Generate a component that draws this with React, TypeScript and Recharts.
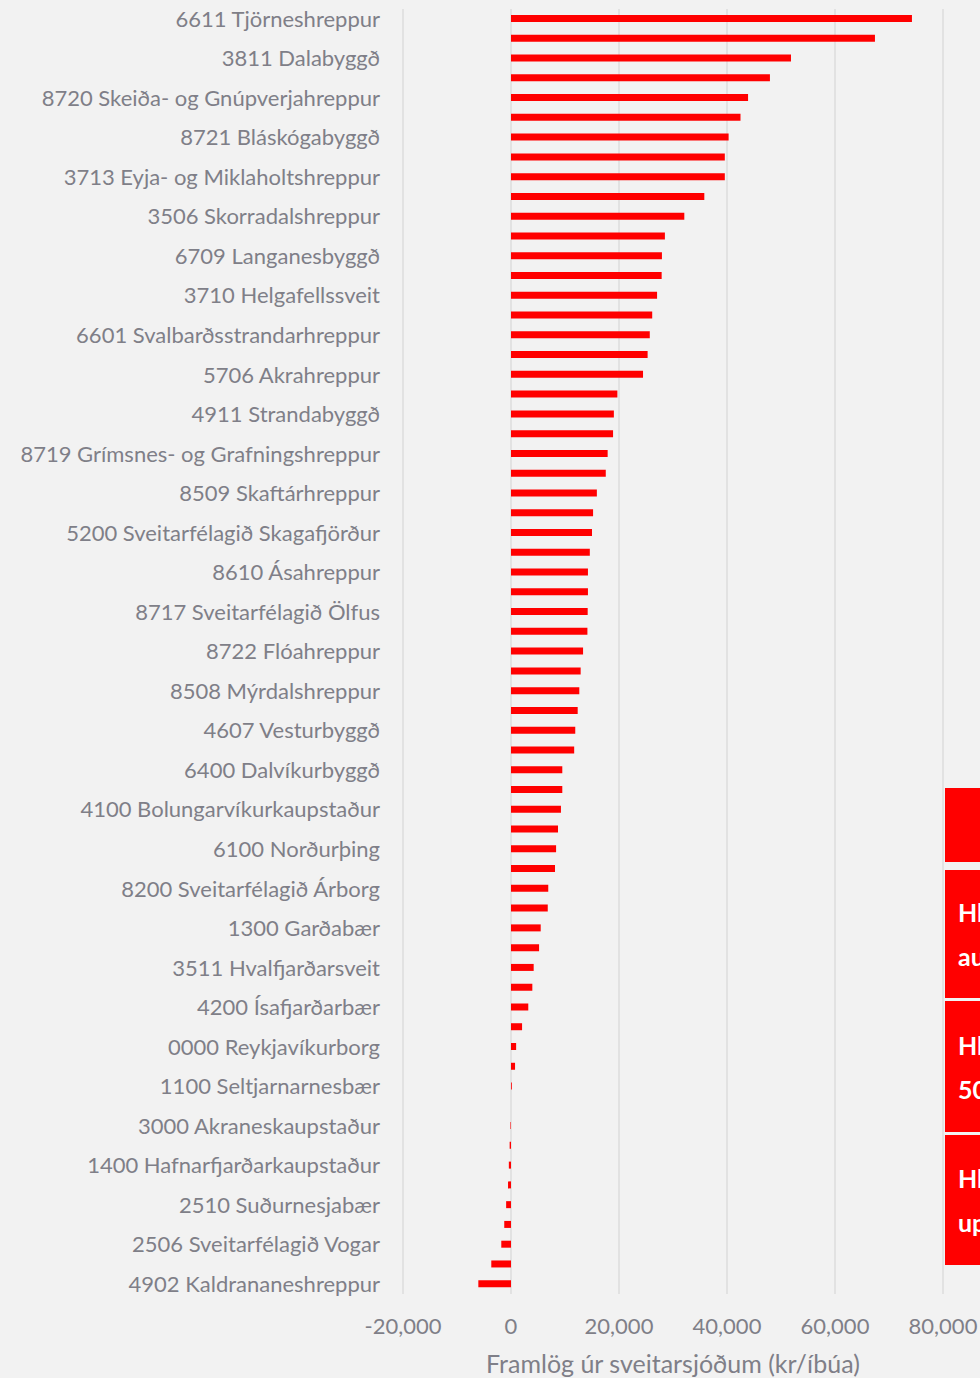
import { BarChart, Bar, XAxis, YAxis, CartesianGrid, Label } from "recharts";

// every other municipality is labelled on the axis; unlabelled rows keep an empty name
const labelledNames = [
  "6611 Tjörneshreppur",
  "3811 Dalabyggð",
  "8720 Skeiða- og Gnúpverjahreppur",
  "8721 Bláskógabyggð",
  "3713 Eyja- og Miklaholtshreppur",
  "3506 Skorradalshreppur",
  "6709 Langanesbyggð",
  "3710 Helgafellssveit",
  "6601 Svalbarðsstrandarhreppur",
  "5706 Akrahreppur",
  "4911 Strandabyggð",
  "8719 Grímsnes- og Grafningshreppur",
  "8509 Skaftárhreppur",
  "5200 Sveitarfélagið Skagafjörður",
  "8610 Ásahreppur",
  "8717 Sveitarfélagið Ölfus",
  "8722 Flóahreppur",
  "8508 Mýrdalshreppur",
  "4607 Vesturbyggð",
  "6400 Dalvíkurbyggð",
  "4100 Bolungarvíkurkaupstaður",
  "6100 Norðurþing",
  "8200 Sveitarfélagið Árborg",
  "1300 Garðabær",
  "3511 Hvalfjarðarsveit",
  "4200 Ísafjarðarbær",
  "0000 Reykjavíkurborg",
  "1100 Seltjarnarnesbær",
  "3000 Akraneskaupstaður",
  "1400 Hafnarfjarðarkaupstaður",
  "2510 Suðurnesjabær",
  "2506 Sveitarfélagið Vogar",
  "4902 Kaldrananeshreppur",
];

// kr per resident, top to bottom
const contributions = [
  74250, 67400, 51850, 47950, 43900, 42500, 40300, 39600, 39600, 35800,
  32100, 28500, 27950, 27900, 27050, 26150, 25700, 25300, 24450, 19700,
  19050, 18900, 17900, 17550, 15900, 15200, 15000, 14600, 14250, 14250,
  14200, 14150, 13350, 12900, 12650, 12350, 11900, 11700, 9500, 9500,
  9250, 8700, 8350, 8150, 6900, 6800, 5500, 5200, 4200, 3950,
  3200, 2050, 950, 750, 150, 0, -100, -250, -400, -550,
  -900, -1250, -1800, -3650, -6050,
];

const xTicks = [-20000, 0, 20000, 40000, 60000, 80000];

const data = contributions.map((value, i) => ({
  name: i % 2 === 0 ? labelledNames[i / 2] : "",
  value,
}));

// boxes partly outside the picture on the right
const sideBoxes = [
  { top: 788, height: 74, lines: [] as string[] },
  { top: 870, height: 128, lines: ["Hlutfall", "aukning"] },
  { top: 1001, height: 131, lines: ["Hlutfall", "50%"] },
  { top: 1135, height: 130, lines: ["Hlutfall", "upp"] },
];

const textColor = "#7f7f88";
const font = "Lato, 'Noto Sans', sans-serif";

export default function App() {
  return (
    <div
      style={{
        position: "absolute",
        left: 0,
        top: 0,
        width: 980,
        height: 1378,
        background: "#f2f2f2",
        overflow: "hidden",
        fontFamily: font,
      }}
    >
      <BarChart
        layout="vertical"
        width={980}
        height={1378}
        data={data}
        margin={{ top: 9, right: 37, bottom: 0, left: 0 }}
      >
        <CartesianGrid horizontal={false} stroke="#dcdcdc" strokeWidth={1.5} />
        <XAxis
          type="number"
          domain={[-20000, 80000]}
          ticks={xTicks}
          tickFormatter={(v: number) => v.toLocaleString("en-US")}
          axisLine={false}
          tickLine={false}
          tickSize={0}
          tickMargin={24}
          height={84}
          tick={{ fill: textColor, fontSize: 22, fontFamily: font }}
        >
          <Label
            value="Framlög úr sveitarsjóðum (kr/íbúa)"
            position="insideBottom"
            offset={5}
            style={{ fill: textColor, fontSize: 25, fontFamily: font }}
          />
        </XAxis>
        <YAxis
          type="category"
          dataKey="name"
          width={403}
          interval={1}
          axisLine={false}
          tickLine={false}
          tickSize={0}
          tickMargin={23}
          tick={{ fill: textColor, fontSize: 22, fontFamily: font }}
        />
        <Bar dataKey="value" fill="#ff0000" barSize={7} isAnimationActive={false} />
      </BarChart>
      {sideBoxes.map((b, i) => (
        <div
          key={i}
          style={{
            position: "absolute",
            left: 945,
            top: b.top,
            width: 200,
            height: b.height,
            background: "#ff0000",
            color: "#ffffff",
            fontWeight: 700,
            fontSize: 25,
            lineHeight: "44px",
            paddingLeft: 13,
            boxSizing: "border-box",
            display: "flex",
            flexDirection: "column",
            justifyContent: "center",
            whiteSpace: "nowrap",
          }}
        >
          {b.lines.map((l, j) => (
            <div key={j}>{l}</div>
          ))}
        </div>
      ))}
    </div>
  );
}
